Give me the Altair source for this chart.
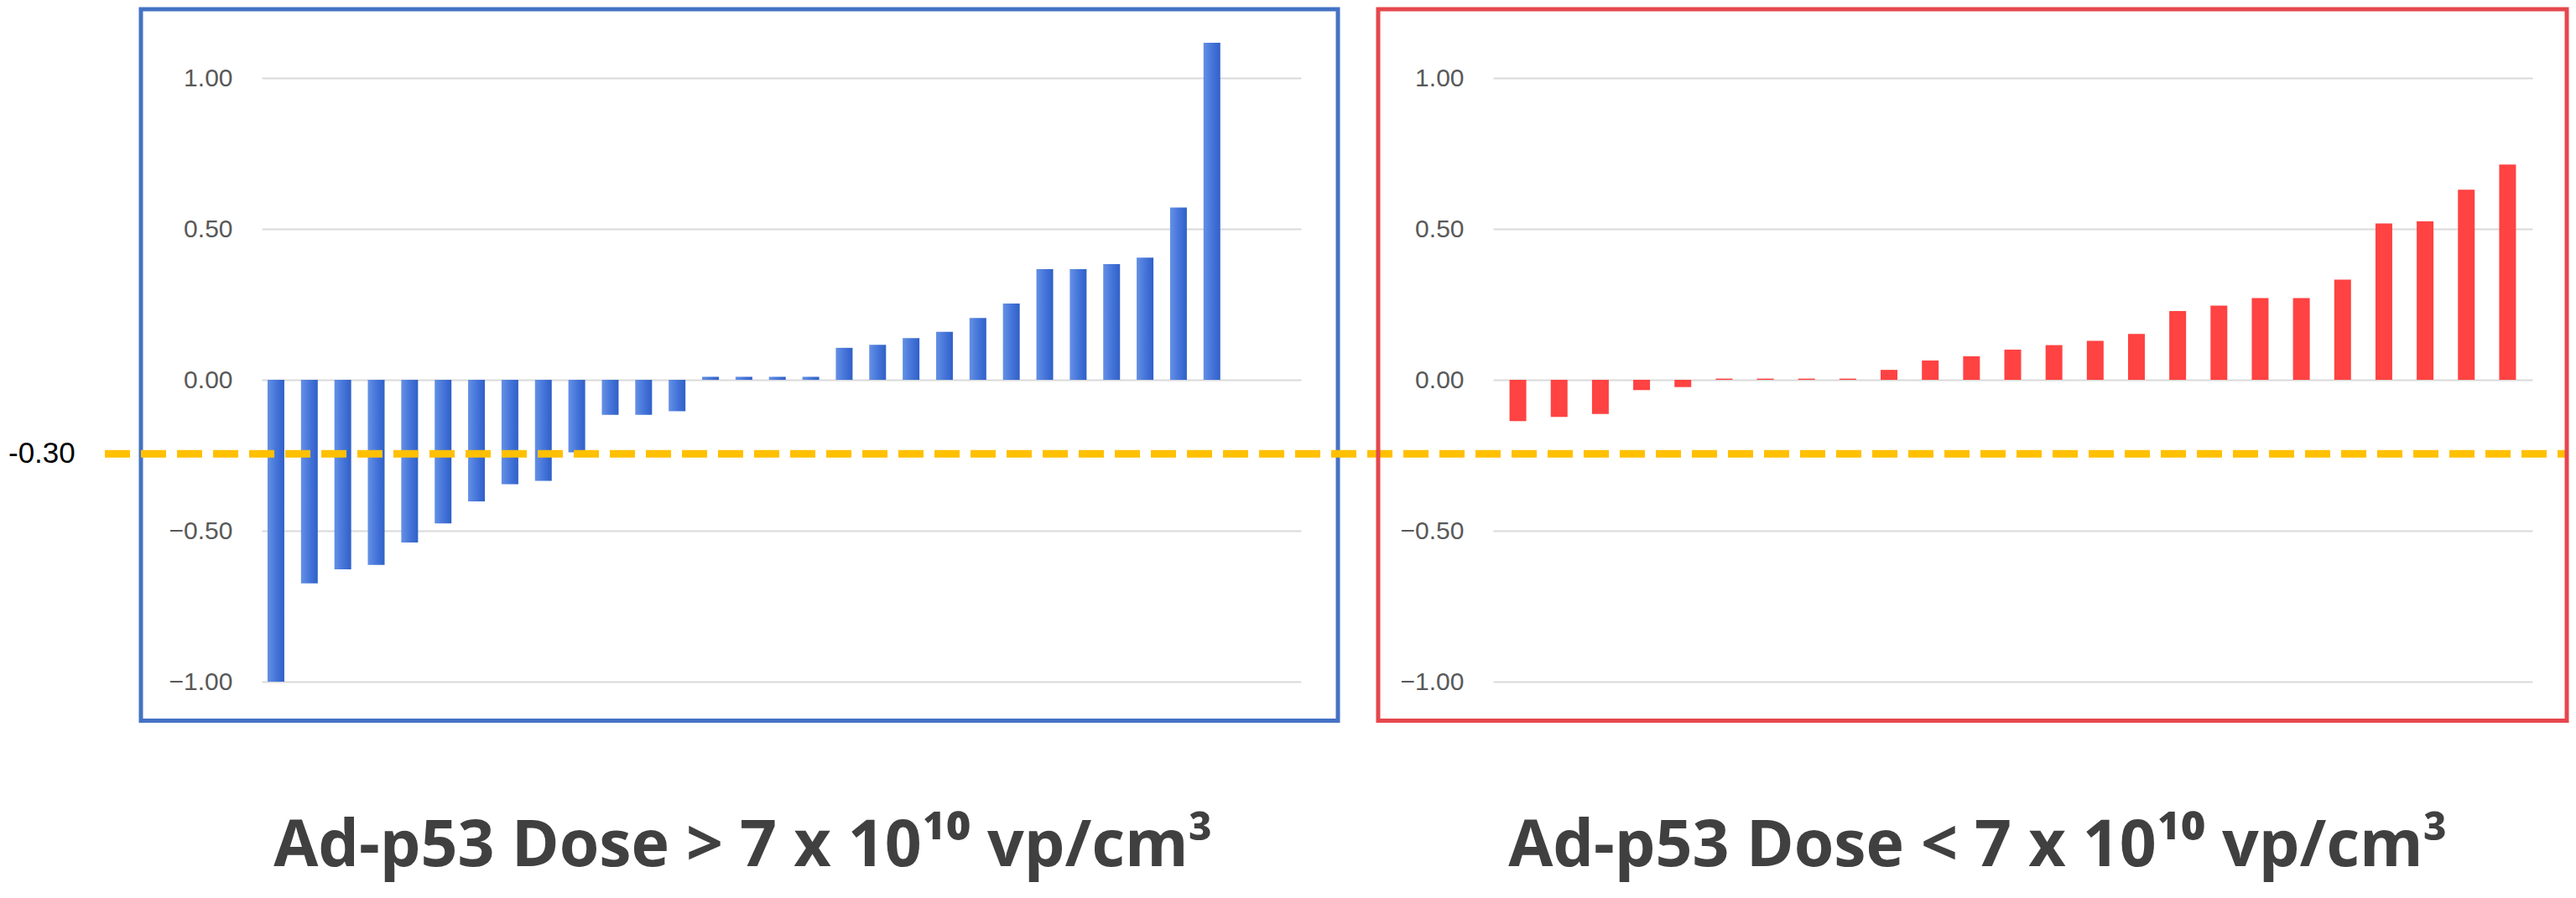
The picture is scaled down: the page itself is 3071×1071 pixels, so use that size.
import altair as alt
import pandas as pd

# ---------------- data ----------------
high_rank = list(range(1, 30))
high_values = [-1.00, -0.674, -0.628, -0.613, -0.539, -0.476, -0.403, -0.346, -0.335,
               -0.24, -0.116, -0.116, -0.104, 0.01, 0.01, 0.01, 0.01, 0.106, 0.116,
               0.138, 0.159, 0.205, 0.253, 0.367, 0.367, 0.383, 0.405, 0.571, 1.117]

low_rank = list(range(1, 26))
low_values = [-0.137, -0.123, -0.113, -0.034, -0.024, 0.004, 0.004, 0.004, 0.004,
              0.033, 0.064, 0.078, 0.100, 0.115, 0.129, 0.152, 0.228, 0.246, 0.271,
              0.271, 0.332, 0.518, 0.525, 0.630, 0.713]

y_ticks = [-1.0, -0.5, 0.0, 0.5, 1.0]
threshold_label = ["-0.30"]
threshold_pos = [-0.245]
panel_titles = ["Ad-p53 Dose > 7 x 10\u00b9\u2070 vp/cm\u00b3",
                "Ad-p53 Dose < 7 x 10\u00b9\u2070 vp/cm\u00b3"]

# ---------------- layout / style ----------------
W, H = 1239, 846
Y_DOMAIN = [-1.15, 1.2]
TICK_FONT = "Liberation Sans"
TITLE_FONT = "Open Sans"

y_scale = alt.Scale(domain=Y_DOMAIN, nice=False, zero=False)
y_axis = alt.Axis(values=y_ticks, format=".2f", title=None, domain=False, ticks=False,
                  labelPadding=35, labelFontSize=30, labelColor="#595959",
                  labelFont=TICK_FONT, labelFlush=False, labelOverlap=False,
                  gridColor="#D9D9D9", gridWidth=2)

blue = alt.Gradient(gradient="linear",
                    stops=[alt.GradientStop(color="#6590E4", offset=0),
                           alt.GradientStop(color="#4676DA", offset=0.5),
                           alt.GradientStop(color="#3060C8", offset=1)],
                    x1=0, x2=1, y1=0, y2=0)
red = "#FF4242"

df_high = pd.DataFrame({"rank": high_rank, "value": high_values})
df_low = pd.DataFrame({"rank": low_rank, "value": low_values})
df_thr = pd.DataFrame({"label": threshold_label, "pos": threshold_pos})
df_t1 = pd.DataFrame({"title": [panel_titles[0]]})
df_t2 = pd.DataFrame({"title": [panel_titles[1]]})


def panel(df, x_domain, bar_color, box_color, box_x, box_x2, title_df, title_x, with_threshold):
    base_y = alt.Y("value:Q", scale=y_scale, axis=y_axis)
    box = alt.Chart(title_df).mark_rect(fillOpacity=0, stroke=box_color, strokeWidth=5).encode(
        x=alt.value(box_x), x2=alt.value(box_x2), y=alt.value(-10), y2=alt.value(838.5))
    bars = alt.Chart(df).mark_bar(width=20, color=bar_color, orient="vertical").encode(
        x=alt.X("rank:Q", scale=alt.Scale(domain=x_domain, nice=False, zero=False), axis=None),
        y=base_y)
    title = alt.Chart(title_df).mark_text(
        align="center", baseline="alphabetic", fontSize=77, font=TITLE_FONT,
        fontWeight="bold", color="#404040").encode(
        x=alt.value(title_x), y=alt.value(1012), text="title:N")
    layers = [box, bars]
    if with_threshold:
        rule = alt.Chart(df_thr).mark_rule(color="#FFC000", strokeWidth=9, strokeDash=[30, 13]).encode(
            x=alt.value(-187), x2=alt.value(3058 - 312), y=alt.Y("pos:Q", scale=y_scale, axis=y_axis))
        label = alt.Chart(df_thr).mark_text(align="left", baseline="middle", fontSize=35,
                                            font=TICK_FONT, color="#000000").encode(
            x=alt.value(-302), y=alt.Y("pos:Q", scale=y_scale, axis=y_axis), text="label:N")
        layers += [rule, label]
    layers.append(title)
    return alt.layer(*layers).properties(width=W, height=H)


left = panel(df_high, [0.7, 31.54], blue, "#4472C4", -144, 1283, df_t1, 574, True)
right = panel(df_low, [0.5, 25.5], red, "#E5474D", -137, 1280, df_t2, 578, False)

chart = alt.hconcat(left, right, spacing=229, bounds="flush").properties(
    padding={"left": 2, "top": 0, "right": 0, "bottom": 12}
).configure_view(strokeWidth=0)

chart.save("out.html", embed_options={"renderer": "svg", "actions": False})
